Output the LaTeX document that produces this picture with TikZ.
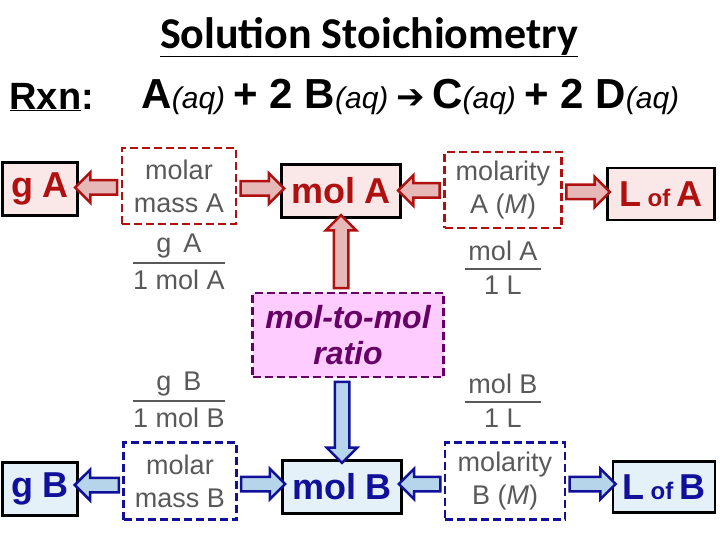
\documentclass[tikz,border=0pt]{standalone}
\usepackage{fontspec}
\setmainfont{Liberation Sans}
\newfontfamily\titlefont{Carlito}
\newfontfamily\symfont{DejaVu Sans}
\usetikzlibrary{shapes.arrows,calc}
\definecolor{redA}{HTML}{B01010}
\definecolor{pinkA}{HTML}{E6B8B7}
\definecolor{boxA}{HTML}{FAE8E8}
\definecolor{blueB}{HTML}{10109A}
\definecolor{cyanB}{HTML}{B7D5EA}
\definecolor{boxB}{HTML}{E4F1F8}
\definecolor{purp}{HTML}{660066}
\definecolor{lilac}{HTML}{FFCCFF}
\definecolor{greytxt}{HTML}{595959}

\newcommand{\fatarrow}[5]{% from, to, rotate, draw, fill
  \path let \p1=(#1), \p2=(#2), \n1={veclen(\x2-\x1,\y2-\y1)} in
    node[single arrow, draw=#4, fill=#5, line width=2.5pt, inner sep=6pt,
      minimum height=\n1, single arrow head extend=8pt,
      shape border rotate=#3] at ($(\p1)!0.5!(\p2)$) {};
}

\begin{document}
\begin{tikzpicture}[x=1pt,y=-1pt]
\tikzset{
    endbox/.style = {draw=black, line width=2.5pt, inner sep=0pt, font=\fontsize{36}{36}\selectfont\bfseries},
    factbox/.style = {dashed, line width=2.5pt, dash pattern=on 8pt off 4pt, inner sep=0pt,
      align=center, text=greytxt, font=\fontsize{27}{33}\selectfont},
    fracnum/.style = {text=greytxt, font=\fontsize{27}{27}\selectfont, inner sep=0pt},
    fracbar/.style = {draw=greytxt, line width=2.5pt},
}
\useasboundingbox (0,0) rectangle (720,540);

% title and reaction
\node (title) at (369,37) {\titlefont\bfseries\fontsize{44}{44}\selectfont\underline{Solution Stoichiometry}};
\node[anchor=west] (rxn) at (6,97) {\fontsize{38}{38}\selectfont\bfseries\underline{Rxn}:};
\node[anchor=west] (eqn) at (138,97) {\fontsize{42}{42}\selectfont\bfseries A\mdseries\itshape\fontsize{30}{30}\selectfont(aq)
  \bfseries\upshape\fontsize{42}{42}\selectfont+ 2 B\mdseries\itshape\fontsize{30}{30}\selectfont(aq)
  \upshape{\symfont\bfseries\fontsize{34}{34}\selectfont ➔}\bfseries\fontsize{42}{42}\selectfont\,C\mdseries\itshape\fontsize{30}{30}\selectfont(aq)
  \bfseries\upshape\fontsize{42}{42}\selectfont+ 2 D\mdseries\itshape\fontsize{30}{30}\selectfont(aq)};

% row A
\node[endbox, fill=boxA, text=redA, minimum width=75, minimum height=53] (gA) at (40,189) {g A};
\node[factbox, draw=redA, minimum width=114, minimum height=76] (mmA) at (179,186) {molar\\mass A};
\node[endbox, fill=boxA, text=redA, minimum width=119, minimum height=53] (molA) at (341,191) {mol A};
\node[factbox, draw=redA, minimum width=117, minimum height=76] (mtyA) at (503,190) {molarity\\A (\textit{M})};
\node[endbox, fill=boxA, text=redA, minimum width=107, minimum height=52] (LA) at (661,194) {L\fontsize{24}{24}\selectfont{} of \fontsize{36}{36}\selectfont A};

% ratio
\node[factbox, draw=purp, fill=lilac, text=purp, minimum width=191, minimum height=84,
  font=\fontsize{32}{36}\selectfont\bfseries\itshape] (ratio) at (348,335) {mol-to-mol\\ratio};

% row B
\node[endbox, fill=boxB, text=blueB, minimum width=75, minimum height=53] (gB) at (40,489) {g B};
\node[factbox, draw=blueB, minimum width=113, minimum height=77] (mmB) at (180,481) {molar\\mass B};
\node[endbox, fill=boxB, text=blueB, minimum width=119, minimum height=53] (molB) at (342,487) {mol B};
\node[factbox, draw=blueB, minimum width=120, minimum height=77] (mtyB) at (505,481) {molarity\\B (\textit{M})};
\node[endbox, fill=boxB, text=blueB, minimum width=102, minimum height=51] (LB) at (664,487) {L\fontsize{24}{24}\selectfont{} of \fontsize{36}{36}\selectfont B};

% fractions
\node[fracnum] (fAln) at (179,246) {g\, A};
\node[fracnum] (fAld) at (179,280) {1 mol A};
\draw[fracbar] ($(fAld.west)+(0,-17)$) -- ($(fAld.east)+(0,-17)$);
\node[fracnum] (fArn) at (503,251) {mol A};
\node[fracnum] (fArd) at (503,285) {1 L};
\draw[fracbar] ($(fArn.west)+(-3,18)$) -- ($(fArn.east)+(3,18)$);
\node[fracnum] (fBln) at (179,384) {g\, B};
\node[fracnum] (fBld) at (179,418) {1 mol B};
\draw[fracbar] ($(fBld.west)+(0,-17)$) -- ($(fBld.east)+(0,-17)$);
\node[fracnum] (fBrn) at (503,384) {mol B};
\node[fracnum] (fBrd) at (503,418) {1 L};
\draw[fracbar] ($(fBrn.west)+(-3,18)$) -- ($(fBrn.east)+(3,18)$);

% fat arrows
\fatarrow{mmA.west}{gA.east}{180}{redA}{pinkA}
\fatarrow{mmA.east}{molA.west}{0}{redA}{pinkA}
\fatarrow{mtyA.west}{molA.east}{180}{redA}{pinkA}
\fatarrow{mtyA.east}{LA.west}{0}{redA}{pinkA}
\fatarrow{ratio.north -| molA.south}{molA.south}{90}{redA}{pinkA}
\fatarrow{ratio.south -| molB.north}{molB.north}{270}{blueB}{cyanB}
\fatarrow{mmB.west}{gB.east}{180}{blueB}{cyanB}
\fatarrow{mmB.east}{molB.west}{0}{blueB}{cyanB}
\fatarrow{mtyB.west}{molB.east}{180}{blueB}{cyanB}
\fatarrow{mtyB.east}{LB.west}{0}{blueB}{cyanB}
\end{tikzpicture}
\end{document}
